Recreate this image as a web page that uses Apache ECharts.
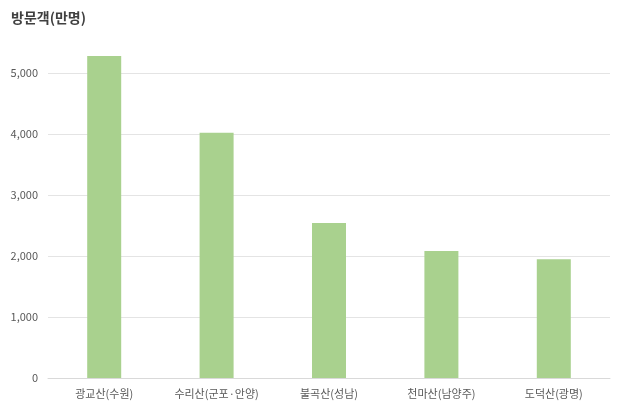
<!DOCTYPE html>
<html><head><meta charset="utf-8">
<script src="https://cdn.jsdelivr.net/npm/echarts@6/dist/echarts.min.js"></script>
<style>html,body{margin:0;padding:0;background:#fff}#c{width:620px;height:409px}</style>
</head><body><div id="c"></div>
<script>
const categories = ['광교산(수원)', '수리산(군포·안양)', '불곡산(성남)', '천마산(남양주)', '도덕산(광명)'];
const visitors = [5280, 4020, 2540, 2080, 1945];
const yTicks = [0, 1000, 2000, 3000, 4000, 5000, 6000];
const font = "'Noto Sans CJK KR', 'Noto Sans', sans-serif";
const chart = echarts.init(document.getElementById('c'));
chart.setOption({
  animation: false,
  title: { text: '방문객(만명)', left: 6, top: 6, textStyle: { fontFamily: font, fontSize: 14, fontWeight: 'bold', color: '#404040' } },
  grid: { left: 48, right: 10, top: 12, bottom: 31, containLabel: false },
  xAxis: {
    type: 'category', data: categories,
    axisTick: { show: false },
    axisLine: { lineStyle: { color: '#d9d9d9' } },
    axisLabel: { fontFamily: font, fontSize: 11, color: '#595959', margin: 10 }
  },
  yAxis: {
    type: 'value', min: yTicks[0], max: yTicks[yTicks.length - 1], interval: 1000,
    axisLine: { show: false }, axisTick: { show: false },
    axisLabel: { fontFamily: font, fontSize: 11, color: '#595959', margin: 10,
      formatter: v => v === 6000 ? '' : v.toLocaleString('en-US') },
    splitLine: { lineStyle: { color: ['#e4e4e4','#e4e4e4','#e4e4e4','#e4e4e4','#e4e4e4','#e4e4e4','rgba(0,0,0,0)'] } }
  },
  series: [{ type: 'bar', data: visitors, barWidth: 34, itemStyle: { color: '#a9d18e' } }]
});
</script></body></html>
